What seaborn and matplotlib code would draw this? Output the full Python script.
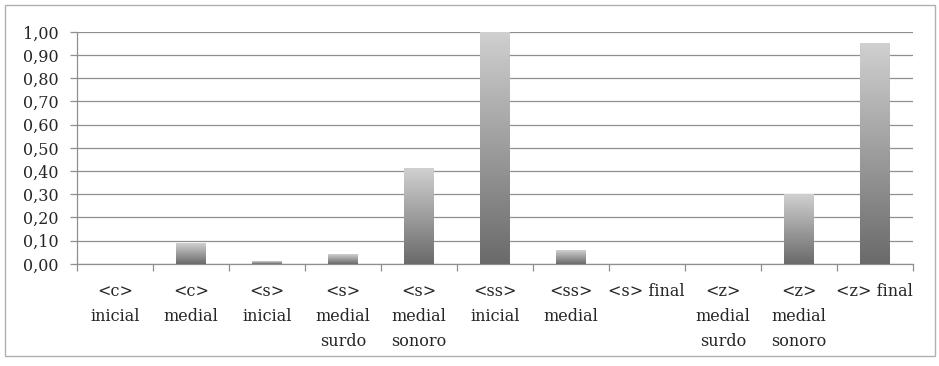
"""Proporcao por contexto grafico - grafico de barras com degrade."""
import numpy as np
import pandas as pd
import seaborn as sns
import matplotlib
matplotlib.use('Agg')
import matplotlib.pyplot as plt
from matplotlib.ticker import FuncFormatter, FixedLocator
from matplotlib.patches import Rectangle

# Dados.
categorias = ['<c>\ninicial', '<c>\nmedial', '<s>\ninicial',
              '<s>\nmedial\nsurdo', '<s>\nmedial\nsonoro', '<ss>\ninicial',
              '<ss>\nmedial', '<s> final', '<z>\nmedial\nsurdo',
              '<z>\nmedial\nsonoro', '<z> final']
valores = [0.00, 0.09, 0.01, 0.04, 0.41, 1.00, 0.06, 0.00, 0.00, 0.30, 0.95]
yticks = [0.0, 0.1, 0.2, 0.3, 0.4, 0.5, 0.6, 0.7, 0.8, 0.9, 1.0]

sns.set_style('white')
plt.rcParams['font.family'] = ['DejaVu Serif']
plt.rcParams['font.size'] = 11

df = pd.DataFrame({'categoria': categorias, 'valor': valores})

fig = plt.figure(figsize=(9.39, 3.66), dpi=100)
ax = fig.add_axes([0.082, 0.279, 0.890, 0.634])

sns.barplot(data=df, x='categoria', y='valor', color='#888888',
            width=0.39, ax=ax, zorder=3)

# Troca cada barra por um degrade (claro em cima, escuro embaixo).
grad = np.linspace(0, 1, 256).reshape(-1, 1)
cmap = matplotlib.colors.LinearSegmentedColormap.from_list(
    'cinza', ['#6a6a6a', '#d0d0d0'])
for p in ax.patches:
    x, w, h = p.get_x(), p.get_width(), p.get_height()
    if h > 0:
        ax.imshow(grad, extent=[x, x + w, 0, h], origin='lower',
                  aspect='auto', cmap=cmap, zorder=3)
    p.set_visible(False)

ax.set_xlim(-0.5, len(categorias) - 0.5)
ax.set_ylim(0, 1.0)
ax.set_yticks(yticks)
ax.yaxis.set_major_formatter(
    FuncFormatter(lambda v, pos: '{0:.2f}'.format(v).replace('.', ',')))
ax.yaxis.grid(True, color='#8f8f8f', linewidth=0.9, zorder=0)
ax.xaxis.grid(False)
ax.set_axisbelow(True)

ax.set_xlabel('')
ax.set_ylabel('')

# Marcas entre as categorias.
ax.xaxis.set_minor_locator(FixedLocator(np.arange(-0.5, len(categorias), 1)))
ax.tick_params(axis='x', which='major', length=0, pad=14, labelsize=11.5)
ax.tick_params(axis='x', which='minor', length=5, color='#8f8f8f',
               width=0.9, direction='out', bottom=True)
ax.tick_params(axis='y', which='major', length=5, color='#8f8f8f',
               width=0.9, direction='out', left=True, pad=8, labelsize=11.5)
for lab in ax.get_xticklabels():
    lab.set_linespacing(1.6)
    lab.set_va('top')

for side in ['top', 'right']:
    ax.spines[side].set_visible(False)
for side in ['left', 'bottom']:
    ax.spines[side].set_color('#8f8f8f')
    ax.spines[side].set_linewidth(0.9)

# Moldura em volta do grafico.
fig.patches.append(Rectangle((5 / 939, 10 / 366), 930 / 939, 351 / 366,
                             transform=fig.transFigure, fill=False,
                             edgecolor='#b0b0b0', linewidth=1.0))

fig.savefig('out.png', dpi=100)
